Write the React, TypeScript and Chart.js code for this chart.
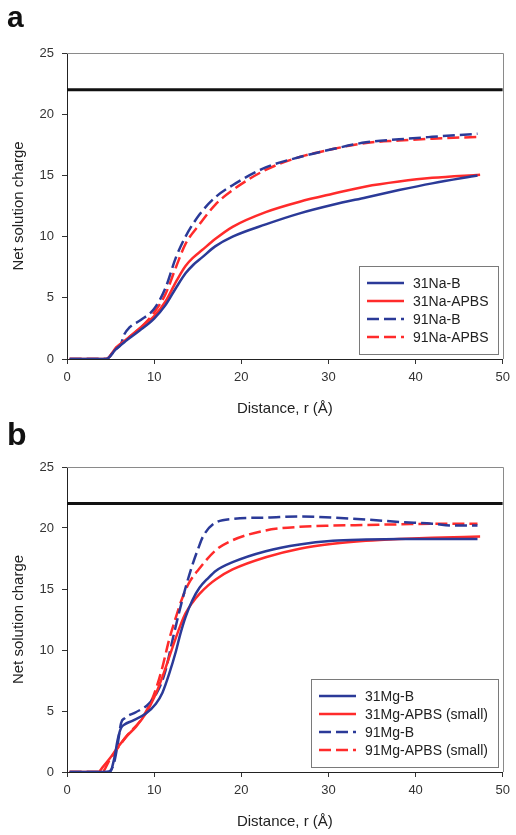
import React, { useEffect, useRef } from "react";
import { Chart, registerables } from "chart.js";

Chart.register(...registerables);

const FAMILY = "Arial, 'Liberation Sans', sans-serif";
const BLUE = "#2B3A98";
const RED = "#FF2B2B";

const X_TICKS = [0, 10, 20, 30, 40, 50];
const Y_TICKS = [0, 5, 10, 15, 20, 25];
const REFERENCE_LEVEL = 22;

// Panel a
const NA_LABELS = ["31Na-B", "31Na-APBS", "91Na-B", "91Na-APBS"];
const na31B_r = [0.3, 4.5, 5.6, 6.8, 8.3, 10, 11.3, 12.5, 13.6, 14.5, 15.5, 17.0, 19.0, 22.8, 26.7, 30.5, 34.3, 38.1, 41.9, 47.1];
const na31B_q = [0, 0, 0.8, 1.5, 2.3, 3.3, 4.4, 5.8, 7.0, 7.7, 8.3, 9.2, 10.0, 11.0, 11.9, 12.6, 13.2, 13.8, 14.35, 15.0];
const na31A_r = [0.3, 4.5, 5.6, 6.8, 8.3, 10, 11.3, 12.5, 13.6, 14.5, 15.5, 17.0, 19.0, 22.8, 26.7, 30.5, 34.3, 38.1, 41.9, 47.4];
const na31A_q = [0, 0, 0.9, 1.6, 2.5, 3.5, 4.7, 6.3, 7.6, 8.3, 8.9, 9.8, 10.8, 12.0, 12.85, 13.5, 14.1, 14.5, 14.8, 15.05];
const na91B_r = [0.3, 4.5, 5.6, 6.2, 6.5, 7.2, 8.5, 10, 11.3, 12.5, 13.6, 15.2, 17.0, 19.0, 22.8, 26.7, 30.5, 34.3, 38.1, 41.9, 47.1];
const na91B_q = [0, 0, 0.8, 1.2, 1.9, 2.6, 3.2, 4.1, 5.8, 8.3, 10.0, 11.8, 13.2, 14.2, 15.65, 16.5, 17.15, 17.7, 17.95, 18.15, 18.4];
const na91A_r = [0.3, 4.5, 5.6, 7.0, 8.5, 10, 11.3, 12.5, 13.6, 15.2, 17.0, 19.0, 22.8, 26.7, 30.5, 34.3, 38.1, 41.9, 47.4];
const na91A_q = [0, 0, 0.9, 1.7, 2.6, 3.8, 5.3, 7.5, 9.4, 11.0, 12.6, 13.8, 15.45, 16.5, 17.15, 17.65, 17.85, 18.0, 18.15];

// Panel b
const MG_LABELS = ["31Mg-B", "31Mg-APBS (small)", "91Mg-B", "91Mg-APBS (small)"];
const mg31B_r = [0.3, 4.9, 5.45, 5.8, 6.2, 6.6, 7.5, 9.05, 10.2, 10.95, 11.7, 12.5, 13.0, 13.6, 14.4, 15.2, 16.2, 17.1, 19.0, 22.8, 26.7, 30.5, 34.3, 38.1, 47.1];
const mg31B_q = [0, 0, 1.2, 2.6, 3.6, 3.9, 4.2, 4.8, 5.6, 6.5, 8.0, 9.9, 11.3, 12.7, 14.1, 15.1, 15.9, 16.5, 17.2, 18.1, 18.65, 18.95, 19.05, 19.1, 19.1];
const mg31A_r = [0.3, 3.6, 4.1, 4.9, 5.8, 6.8, 7.9, 9.05, 10, 10.95, 12.1, 13.0, 13.6, 14.4, 15.2, 16.2, 17.1, 19.0, 22.8, 26.7, 30.5, 34.3, 38.1, 41.9, 47.4];
const mg31A_q = [0, 0, 0.4, 1.1, 2.0, 2.9, 3.7, 4.8, 6.1, 7.8, 10.2, 12.0, 13.0, 13.9, 14.6, 15.3, 15.8, 16.6, 17.6, 18.3, 18.7, 18.95, 19.1, 19.2, 19.3];
const mg91B_r = [0.3, 4.5, 5.3, 5.8, 6.2, 6.6, 7.9, 9.4, 10.6, 11.3, 12.1, 12.8, 13.6, 14.4, 15.1, 15.6, 16.75, 19.0, 22.8, 26.7, 30.5, 34.3, 38.1, 41.9, 44.2, 47.1];
const mg91B_q = [0, 0, 0.5, 2.2, 4.0, 4.4, 4.9, 5.6, 6.9, 8.3, 10.8, 12.9, 15.1, 17.0, 18.4, 19.3, 20.3, 20.75, 20.85, 20.95, 20.85, 20.7, 20.5, 20.35, 20.2, 20.2];
const mg91A_r = [0.3, 4.0, 4.9, 6.8, 8.7, 10, 10.95, 11.7, 12.5, 13.2, 14.0, 15.1, 17.1, 19.0, 22.8, 26.7, 30.5, 34.3, 38.1, 41.9, 47.1];
const mg91A_q = [0, 0, 1.0, 2.9, 4.5, 6.4, 8.6, 10.8, 12.7, 14.2, 15.5, 16.6, 18.2, 19.0, 19.8, 20.1, 20.2, 20.25, 20.3, 20.35, 20.35];

type Series = { label: string; r: number[]; q: number[]; color: string; dashed: boolean };

const PANEL_A: Series[] = [
  { label: NA_LABELS[0], r: na31B_r, q: na31B_q, color: BLUE, dashed: false },
  { label: NA_LABELS[1], r: na31A_r, q: na31A_q, color: RED, dashed: false },
  { label: NA_LABELS[2], r: na91B_r, q: na91B_q, color: BLUE, dashed: true },
  { label: NA_LABELS[3], r: na91A_r, q: na91A_q, color: RED, dashed: true },
];
const PANEL_B: Series[] = [
  { label: MG_LABELS[0], r: mg31B_r, q: mg31B_q, color: BLUE, dashed: false },
  { label: MG_LABELS[1], r: mg31A_r, q: mg31A_q, color: RED, dashed: false },
  { label: MG_LABELS[2], r: mg91B_r, q: mg91B_q, color: BLUE, dashed: true },
  { label: MG_LABELS[3], r: mg91A_r, q: mg91A_q, color: RED, dashed: true },
];

const frameLegendPlugin = {
  id: "frameLegend",
  beforeDatasetsDraw(chart: any) {
    const { ctx, chartArea } = chart;
    ctx.save();
    ctx.strokeStyle = "#8a8a8a";
    ctx.lineWidth = 1;
    ctx.beginPath();
    const t = Math.round(chartArea.top) + 0.5;
    const r = Math.round(chartArea.right) + 0.5;
    ctx.moveTo(chartArea.left, t);
    ctx.lineTo(r, t);
    ctx.lineTo(r, chartArea.bottom);
    ctx.stroke();
    ctx.restore();
  },
  afterDraw(chart: any, _args: any, opts: any) {
    const { ctx, chartArea } = chart;
    const items = chart.data.datasets.filter((d: any) => d.label);
    ctx.save();
    ctx.font = `14px ${FAMILY}`;
    const tw = Math.max(...items.map((d: any) => ctx.measureText(d.label).width));
    const w = Math.round(opts.padL + opts.sample + opts.gap + tw + opts.padR);
    const h = opts.firstRow * 2 + (items.length - 1) * opts.rowH;
    const right = Math.round(chartArea.right - opts.inset);
    const bottom = Math.round(chartArea.bottom - opts.inset);
    const left = right - w;
    const top = bottom - h;
    ctx.fillStyle = "#ffffff";
    ctx.fillRect(left, top, w, h);
    ctx.strokeStyle = "#7a7a7a";
    ctx.lineWidth = 1;
    ctx.strokeRect(left + 0.5, top + 0.5, w, h);
    items.forEach((d: any, i: number) => {
      const y = top + opts.firstRow + i * opts.rowH;
      ctx.beginPath();
      ctx.setLineDash(d.borderDash || []);
      ctx.strokeStyle = d.borderColor;
      ctx.lineWidth = d.borderWidth;
      ctx.moveTo(left + opts.padL, y);
      ctx.lineTo(left + opts.padL + opts.sample, y);
      ctx.stroke();
      ctx.setLineDash([]);
      ctx.fillStyle = "#222";
      ctx.textBaseline = "middle";
      ctx.textAlign = "left";
      ctx.fillText(d.label, left + opts.padL + opts.sample + opts.gap, y + 1);
    });
    ctx.restore();
  },
};

type Geom = { top: number; xH: number; xTitlePad: number };

function buildConfig(series: Series[], geom: Geom): any {
  const datasets: any[] = [
    {
      data: [
        { x: X_TICKS[0], y: REFERENCE_LEVEL },
        { x: X_TICKS[X_TICKS.length - 1], y: REFERENCE_LEVEL },
      ],
      borderColor: "#111",
      borderWidth: 3,
      pointRadius: 0,
      tension: 0,
      fill: false,
    },
    ...series.map((s) => ({
      label: s.label,
      data: s.r.map((x, i) => ({ x, y: s.q[i] })),
      borderColor: s.color,
      borderWidth: 2.5,
      borderDash: s.dashed ? [12, 5] : [],
      pointRadius: 0,
      cubicInterpolationMode: "monotone",
      fill: false,
    })),
  ];
  return {
    type: "line",
    data: { datasets },
    options: {
      animation: false,
      responsive: false,
      maintainAspectRatio: false,
      layout: { padding: { left: 0, right: 12, top: geom.top, bottom: 0 } },
      plugins: {
        legend: { display: false },
        tooltip: { enabled: false },
        frameLegend: { padL: 8, sample: 37, gap: 9, padR: 10, firstRow: 17, rowH: 18, inset: 5 },
      },
      scales: {
        x: {
          type: "linear",
          min: 0,
          max: 50,
          afterBuildTicks: (s: any) => {
            s.ticks = X_TICKS.map((v) => ({ value: v }));
          },
          afterFit: (s: any) => {
            s.height = geom.xH;
          },
          grid: { display: true, drawOnChartArea: false, drawTicks: true, tickLength: 5, color: "#333", lineWidth: 1 },
          border: { display: true, color: "#222", width: 1 },
          ticks: { font: { size: 13, family: FAMILY }, color: "#333", padding: 6, maxRotation: 0 },
          title: {
            display: true,
            text: "Distance, r (Å)",
            font: { size: 15, family: FAMILY },
            color: "#222",
            padding: { top: 0, bottom: geom.xTitlePad },
          },
        },
        y: {
          type: "linear",
          min: 0,
          max: 25,
          afterBuildTicks: (s: any) => {
            s.ticks = Y_TICKS.map((v) => ({ value: v }));
          },
          afterFit: (s: any) => {
            s.width = 67;
          },
          grid: { display: true, drawOnChartArea: false, drawTicks: true, tickLength: 5, color: "#333", lineWidth: 1 },
          border: { display: true, color: "#222", width: 1 },
          ticks: { font: { size: 13, family: FAMILY }, color: "#333", padding: 8 },
          title: {
            display: true,
            text: "Net solution charge",
            font: { size: 15, family: FAMILY },
            color: "#222",
            padding: { top: 10, bottom: 0 },
          },
        },
      },
    },
    plugins: [frameLegendPlugin],
  };
}

export default function App() {
  const refA = useRef<HTMLCanvasElement | null>(null);
  const refB = useRef<HTMLCanvasElement | null>(null);
  useEffect(() => {
    const a = new Chart(refA.current as HTMLCanvasElement, buildConfig(PANEL_A, { top: 53, xH: 57, xTitlePad: -2 }));
    const b = new Chart(refB.current as HTMLCanvasElement, buildConfig(PANEL_B, { top: 51, xH: 63, xTitlePad: 4 }));
    return () => {
      a.destroy();
      b.destroy();
    };
  }, []);
  const letter: React.CSSProperties = {
    position: "absolute",
    left: 7,
    fontFamily: FAMILY,
    fontWeight: "bold",
    color: "#111",
  };
  return (
    <div style={{ position: "absolute", left: 0, top: 0, width: 516, height: 835, background: "#fff", overflow: "hidden" }}>
      <canvas ref={refA} width={516} height={416} style={{ position: "absolute", left: 0, top: 0, width: 516, height: 416 }} />
      <canvas ref={refB} width={516} height={419} style={{ position: "absolute", left: 0, top: 416, width: 516, height: 419 }} />
      <div style={{ ...letter, top: 2, fontSize: 30, lineHeight: "30px" }}>a</div>
      <div style={{ ...letter, top: 418, fontSize: 32, lineHeight: "32px" }}>b</div>
    </div>
  );
}
